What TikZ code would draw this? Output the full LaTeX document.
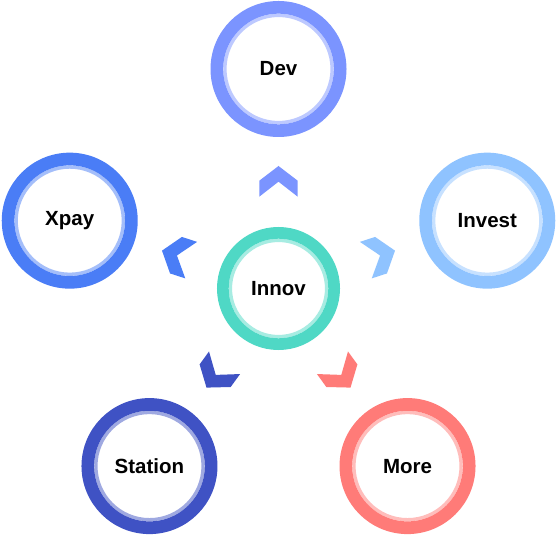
\documentclass[tikz,border=0pt]{standalone}
\usepackage{fontspec}
\setmainfont{Liberation Sans}
\usepackage{xcolor}
\usepackage{tikz}
\usetikzlibrary{shapes}
\usetikzlibrary{calc}
\definecolor{devc}{HTML}{7B94FF}
\definecolor{xpayc}{HTML}{4A7DF6}
\definecolor{investc}{HTML}{8FC3FF}
\definecolor{stationc}{HTML}{3F52C4}
\definecolor{morec}{HTML}{FF7B78}
\definecolor{innovc}{HTML}{4FD8C5}
\tikzset{
	ring/.style={circle,draw=#1,fill=white,inner sep=0pt,
		font=\fontsize{20.5}{24}\selectfont\bfseries},
	big ring/.style={ring=#1,line width=12.7pt,minimum size=123.3pt,
		path picture={\draw[#1!50!white,line width=3.3pt] (path picture bounding box.center) circle (53.6pt);}},
	hub ring/.style={ring=#1,line width=11.7pt,minimum size=111.3pt,
		path picture={\draw[#1!50!white,line width=3.3pt] (path picture bounding box.center) circle (48.1pt);}}
}

\begin{document}
\begin{tikzpicture}[x=1pt,y=1pt]
	\useasboundingbox (0,0) rectangle (559,538);
	\node [hub ring=innovc] (innov) at (278.5,249.5) {Innov};
	\node [big ring=devc] (dev) at ($(innov)+(90:219.5)$) {Dev};
	\node [big ring=xpayc] (xpay) at ($(innov)+(162:219.5)$) {Xpay};
	\node [big ring=stationc] (station) at ($(innov)+(234:219.5)$) {Station};
	\node [big ring=morec] (more) at ($(innov)+(306:219.5)$) {More};
	\node [big ring=investc] (invest) at ($(innov)+(18:219.5)$) {Invest};
	% chevrons pointing out of the hub
	\foreach \a/\c in {90/devc,162/xpayc,234/stationc,306/morec,18/investc}
		\fill [\c,shift={(innov.center)},rotate=\a-90]
			(0,122.5) -- (-19.2,107.8) -- (-19.2,91.8) -- (0,106.8)
			-- (19.2,91.8) -- (19.2,107.8) -- cycle;
\end{tikzpicture}
\end{document}
